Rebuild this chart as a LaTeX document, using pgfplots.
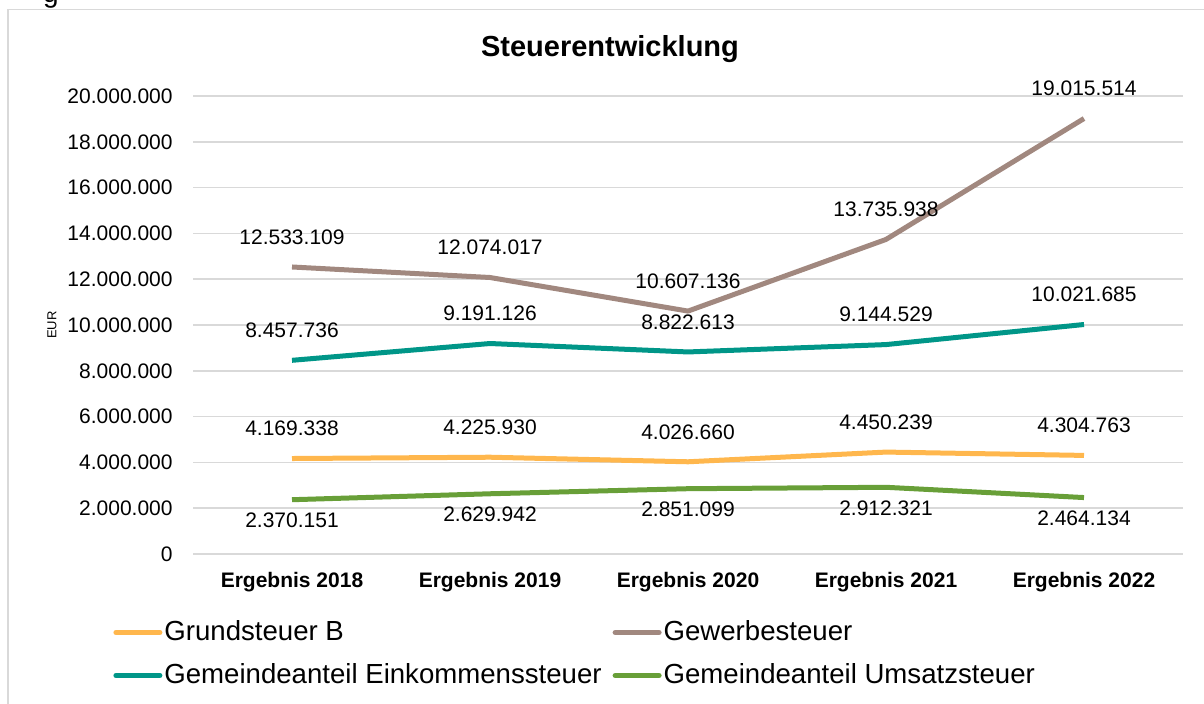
\documentclass[border=0pt]{standalone}
\usepackage{pgfplots}
\pgfplotsset{compat=1.18}
\usepackage{pgfplotstable}
\usepackage{fontspec}
\setmainfont{Liberation Sans}
\definecolor{cGrund}{HTML}{FFB74D}
\definecolor{cGewerbe}{HTML}{A1887F}
\definecolor{cEink}{HTML}{009688}
\definecolor{cUmsatz}{HTML}{689F38}
\definecolor{cGrid}{HTML}{D9D9D9}

\pgfplotstableread{
x y l
0 4169338 4.169.338
1 4225930 4.225.930
2 4026660 4.026.660
3 4450239 4.450.239
4 4304763 4.304.763
}\grund
\pgfplotstableread{
x y l
0 12533109 12.533.109
1 12074017 12.074.017
2 10607136 10.607.136
3 13735938 13.735.938
4 19015514 19.015.514
}\gewerbe
\pgfplotstableread{
x y l
0 8457736 8.457.736
1 9191126 9.191.126
2 8822613 8.822.613
3 9144529 9.144.529
4 10021685 10.021.685
}\eink
\pgfplotstableread{
x y l
0 2370151 2.370.151
1 2629942 2.629.942
2 2851099 2.851.099
3 2912321 2.912.321
4 2464134 2.464.134
}\umsatz

\begin{document}
\begin{tikzpicture}
\useasboundingbox (0pt,0pt) rectangle (602pt,-352pt);
\draw[cGrid, line width=0.75pt] (4pt,-360pt) -- (4pt,-4.75pt) -- (610pt,-4.75pt);
\node[font=\fontsize{14.5}{17}\selectfont\bfseries] at (305pt,-24.5pt) {Steuerentwicklung};
\node[rotate=90, font=\fontsize{6.5}{8}\selectfont] at (26pt,-162.5pt) {EUR};
\node[font=\fontsize{14}{16}\selectfont, anchor=base west] at (18pt,-1.5pt) {g};
\begin{axis}[
  at={(96.5pt,-48pt)}, anchor=north west,
  scale only axis, width=495pt, height=229pt,
  xmin=-0.5, xmax=4.5, ymin=0, ymax=20000000,
  scaled y ticks=false,
  xtick={0,1,2,3,4},
  xticklabels={Ergebnis 2018,Ergebnis 2019,Ergebnis 2020,Ergebnis 2021,Ergebnis 2022},
  xticklabel style={font=\fontsize{10.5}{12}\selectfont\bfseries, inner sep=0pt, anchor=north, yshift=-9pt},
  ytick={0,2000000,4000000,6000000,8000000,10000000,12000000,14000000,16000000,18000000,20000000},
  yticklabels={0,2.000.000,4.000.000,6.000.000,8.000.000,10.000.000,12.000.000,14.000.000,16.000.000,18.000.000,20.000.000},
  yticklabel style={font=\fontsize{10.5}{12}\selectfont, inner sep=0pt, anchor=east, xshift=-10pt},
  major tick length=0pt,
  axis line style={draw=none},
  ymajorgrids, grid style={cGrid, line width=0.75pt},
  point meta=explicit symbolic,
  legend columns=2,
  legend cell align=left,
  legend style={draw=none, fill=none, at={(-0.0808,-0.141)}, anchor=north west,
    font=\fontsize{13.8}{16}\selectfont, inner sep=0pt,
    row sep=8pt,
    nodes={inner sep=1pt},
    /tikz/every even column/.append style={column sep=4.5pt}},
  legend image code/.code={\draw[#1, line cap=round] (0pt,0pt) -- (22pt,0pt);},
  every axis plot/.append style={line width=2.5pt, line join=round, mark=none},
  nodes near coords,
  every node near coord/.append style={font=\fontsize{10.5}{12}\selectfont, text=black, anchor=center, yshift=15pt},
]
\addplot[cGrund] table[x=x,y=y,meta=l] {\grund};
\addlegendentry{Grundsteuer B}
\addplot[cGewerbe] table[x=x,y=y,meta=l] {\gewerbe};
\addlegendentry{Gewerbesteuer}
\addplot[cEink] table[x=x,y=y,meta=l] {\eink};
\addlegendentry{Gemeindeanteil Einkommenssteuer}
\addplot[cUmsatz, every node near coord/.append style={yshift=-25.5pt}] table[x=x,y=y,meta=l] {\umsatz};
\addlegendentry{Gemeindeanteil Umsatzsteuer}
\end{axis}
\end{tikzpicture}
\end{document}
